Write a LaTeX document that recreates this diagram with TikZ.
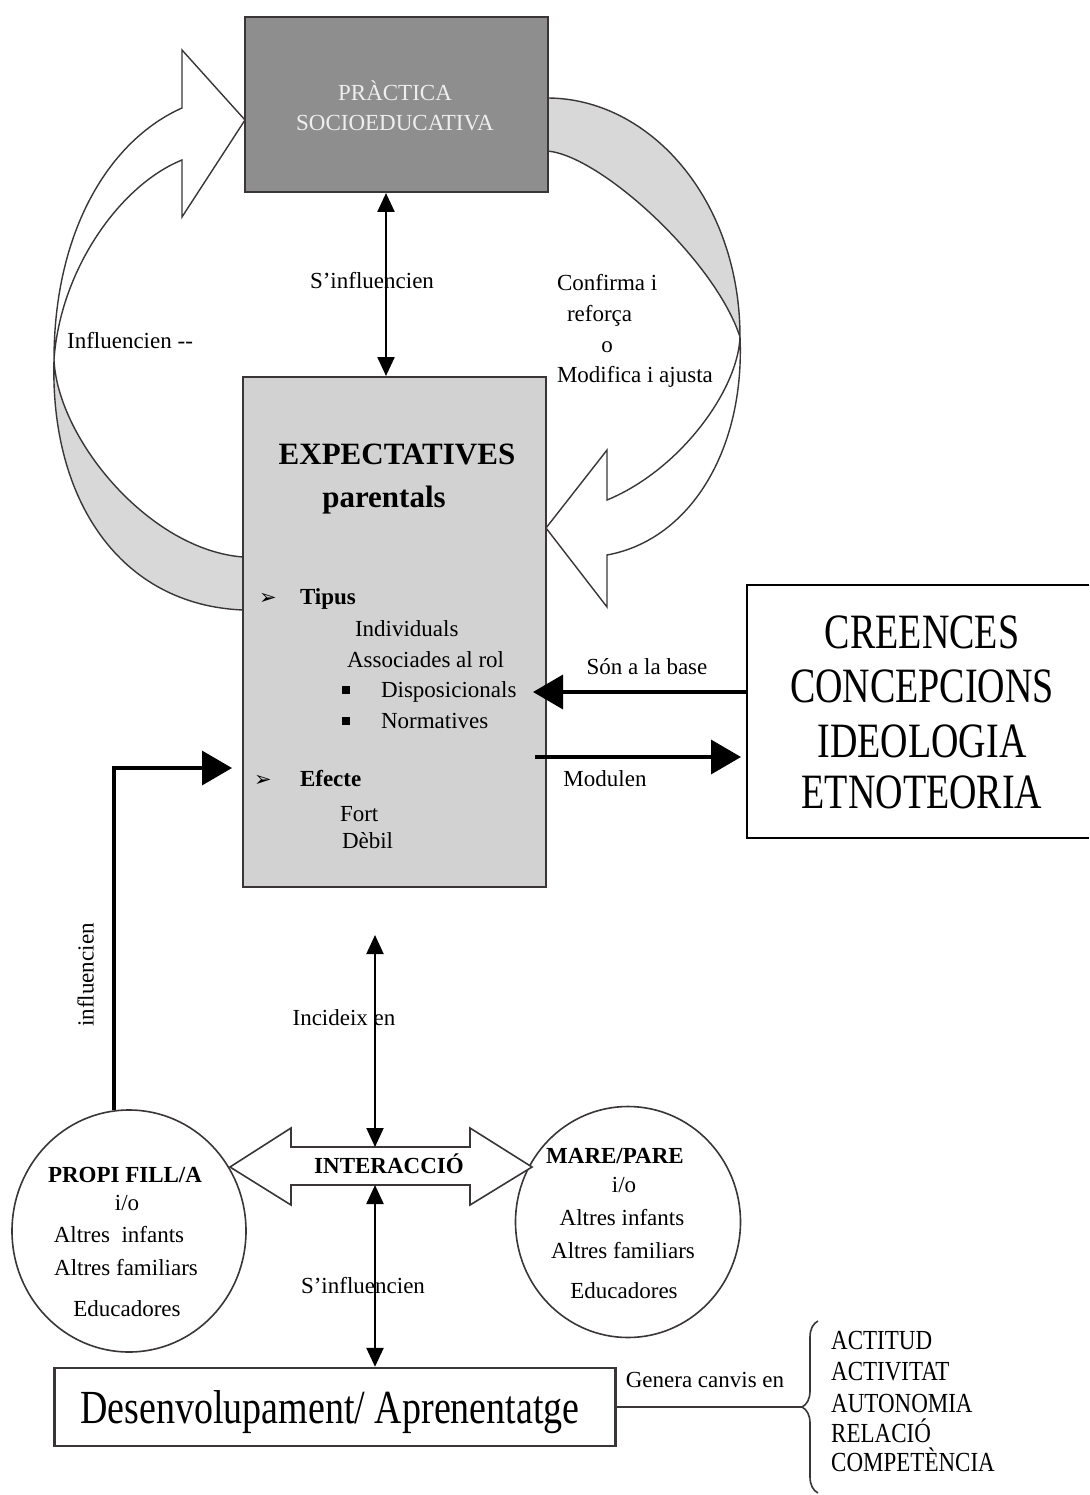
\documentclass[tikz,border=0pt]{standalone}
\usepackage{fontspec}
\usepackage{graphicx}
\setmainfont{Liberation Serif}
\newfontfamily\dingfont{DejaVu Sans}
\usetikzlibrary{arrows.meta,shapes.geometric,decorations.pathreplacing}
\newcommand{\vstretch}[2]{\scalebox{1}[#1]{#2}}
\definecolor{boxline}{HTML}{3A3636}
\definecolor{darkfill}{HTML}{8E8E8E}
\definecolor{lightfill}{HTML}{D2D2D2}
\definecolor{ribbonfill}{HTML}{D8D8D8}
\definecolor{lighttext}{HTML}{EEEEEE}
\begin{document}
\begin{tikzpicture}[x=1pt,y=-1pt,
  lab/.style={inner sep=0pt, outer sep=0pt, text height=16pt, text depth=5pt, font=\fontsize{23}{27}\selectfont},
  labb/.style={lab, font=\fontsize{23}{27}\selectfont\bfseries},
  bigtitle/.style={inner sep=0pt, outer sep=0pt, text height=22pt, text depth=7pt, font=\fontsize{31}{35}\selectfont\bfseries},
  ribbon/.style={draw=boxline, line width=1.4pt, line join=miter},
  smallarr/.style={draw=black, line width=2.4pt, {Triangle[length=19pt,width=17pt]}-{Triangle[length=19pt,width=17pt]}},
  bigarr/.style={draw=black, line width=3.5pt, -{Triangle[length=30pt,width=34pt]}},
  circlebox/.style={draw=boxline, line width=1.6pt, ellipse, inner sep=0pt},
  dingmark/.style={inner sep=0pt, font=\dingfont\fontsize{21}{21}\selectfont},
  sqbullet/.style={fill=black, minimum size=8pt, inner sep=0pt},
  listitem/.style={anchor=base west, inner sep=0pt, font=\fontsize{23}{25}\selectfont},
  bigword/.style={anchor=base, inner sep=0pt, font=\fontsize{38}{40}\selectfont}
]
\fill[white] (0,0) rectangle (1089,1495);
\useasboundingbox (0,0) rectangle (1089,1495);

% ---------- ribbons (curved block arrows) ----------
% left ribbon: grey lower part
\filldraw[ribbon, fill=ribbonfill] (54,360) .. controls (58,440) and (150,550) .. (243,557)
   -- (243,610) .. controls (120,605) and (50,500) .. (54,360) -- cycle;
% left ribbon: white upper part with head
\filldraw[ribbon, fill=white] (54,360) .. controls (54,230) and (110,140) .. (182,108)
   -- (182,50) -- (245,120) -- (182,217) -- (182,160)
   .. controls (120,185) and (60,270) .. (54,360) -- cycle;
% right ribbon: grey upper part
\filldraw[ribbon, fill=ribbonfill] (547,98) .. controls (650,98) and (740,200) .. (740,337)
   .. controls (715,260) and (600,155) .. (547,151) -- cycle;
% right ribbon: white lower part with head
\filldraw[ribbon, fill=white] (740,337) .. controls (738,390) and (680,470) .. (607,500)
   -- (607,450) -- (546,528) -- (607,607) -- (607,555)
   .. controls (690,540) and (745,450) .. (740,337) -- cycle;

% ---------- main boxes ----------
\node[draw=boxline, line width=2pt, fill=darkfill, minimum width=303pt, minimum height=175pt, inner sep=0pt] (prac) at (396.5,104.5) {};
\node[lab, text=lighttext] (pracA) at (395,95) {PRÀCTICA};
\node[lab, text=lighttext] (pracB) at (395,125) {SOCIOEDUCATIVA};

\node[draw=boxline, line width=2pt, fill=lightfill, minimum width=303pt, minimum height=510pt, inner sep=0pt] (exp) at (394.5,632) {};
\node[bigtitle] (expA) at (397,457) {EXPECTATIVES};
\node[bigtitle] (expB) at (384,500) {parentals};
\node[dingmark] (m1) at (268,599) {➢};
\node[labb, anchor=west] (tip) at (300,599) {Tipus};
\node[lab, anchor=west] (ind) at (355,631) {Individuals};
\node[lab, anchor=west] (ass) at (347,662) {Associades al rol};
\node[sqbullet] (b1) at (346,690) {};
\node[lab, anchor=west] (dis) at (381,692) {Disposicionals};
\node[sqbullet] (b2) at (346,721) {};
\node[lab, anchor=west] (nor) at (381,723) {Normatives};
\node[dingmark] (m2) at (263,781) {➢};
\node[labb, anchor=west] (efe) at (300,781) {Efecte};
\node[lab, anchor=west] (fort) at (340,816) {Fort};
\node[lab, anchor=west] (deb) at (342,843) {Dèbil};

% top double arrow
\coordinate (topX) at (386,0);
\draw[smallarr] (prac.south -| topX) -- (exp.north -| topX);
\node[lab] (sinf1) at (372,283) {S’influencien};

% ribbon labels
\node[lab] (infl) at (130,343) {Influencien {-}{-}};
\node[lab, anchor=west] (conf1) at (557,285) {Confirma i};
\node[lab, anchor=west] (conf2) at (567,316) {reforça};
\node[lab] (conf3) at (607,347) {o};
\node[lab, anchor=west] (conf4) at (557,377) {Modifica i ajusta};

% ---------- CREENCES box ----------
\node[minimum width=342pt, minimum height=253pt, inner sep=0pt, outer sep=0pt] (crb) at (918,711.5) {};
\draw[black, line width=2.8pt] (crb.north east) -- (crb.north west) -- (crb.south west) -- (crb.south east);
\node[bigword] (cr1) at (922,648) {\vstretch{1.3}{CREENCES}};
\node[bigword] (cr2) at (922,702) {\vstretch{1.3}{CONCEPCIONS}};
\node[bigword] (cr3) at (922,757) {\vstretch{1.3}{IDEOLOGIA}};
\node[bigword] (cr4) at (922,808) {\vstretch{1.3}{ETNOTEORIA}};

\coordinate (ySon) at (0,692);
\coordinate (yMod) at (0,757);
\draw[bigarr, shorten >=-14pt] (crb.west |- ySon) -- (exp.east |- ySon);
\draw[bigarr, shorten <=-12pt, shorten >=6pt] (exp.east |- yMod) -- (crb.west |- yMod);
\node[lab] (son) at (647,669) {Són a la base};
\node[lab] (mod) at (605,781) {Modulen};

% ---------- lower part ----------
\node[circlebox, minimum width=234pt, minimum height=242pt] (pf) at (129,1231) {};
\node[labb] (pf1) at (125,1177) {PROPI FILL/A};
\node[lab] (pf2) at (127,1205) {i/o};
\node[lab] (pf3) at (119,1237) {Altres\ \ infants};
\node[lab] (pf4) at (126,1270) {Altres familiars};
\node[lab] (pf5) at (127,1311) {Educadores};

\node[circlebox, minimum width=225pt, minimum height=231pt] (mp) at (628,1222) {};
\node[labb] (mp1) at (615,1158) {MARE/PARE};
\node[lab] (mp2) at (624,1187) {i/o};
\node[lab] (mp3) at (622,1220) {Altres infants};
\node[lab] (mp4) at (623,1253) {Altres familiars};
\node[lab] (mp5) at (624,1293) {Educadores};

% influencien connector
\coordinate (yInf) at (0,768);
\draw[bigarr, shorten >=10pt] (pf.97) |- (exp.west |- yInf);
\node[lab, rotate=90] (infl2) at (88,975) {influencien};

% INTERACCIO double block arrow
\filldraw[draw=boxline, line width=1.6pt, fill=white] (230,1167) -- (291,1128) -- (291,1147) -- (470,1147)
  -- (470,1128) -- (532,1167) -- (470,1205) -- (470,1185) -- (291,1185) -- (291,1205) -- cycle;
\node[labb] (inter) at (389,1168) {INTERACCIÓ};
\coordinate (iaTop) at (375,1147);
\coordinate (iaBot) at (375,1185);
\coordinate (incTop) at (375,935);

\node[draw=boxline, line width=2.4pt, minimum width=561pt, minimum height=78pt, inner sep=0pt] (dev) at (335,1407) {};
\node[bigword] (devT) at (330,1423) {\vstretch{1.25}{Desenvolupament/ Aprenentatge}};

\draw[smallarr, line width=2pt] (incTop) -- (iaTop);
\draw[smallarr] (iaBot) -- (dev.north -| iaBot);
\node[lab] (incid) at (344,1020) {Incideix en};
\node[lab] (sinf2) at (363,1288) {S’influencien};

% brace and list
\coordinate (brBot) at (818,1493);
\coordinate (brTop) at (818,1321);
\coordinate (brTip) at (802,1407);
\draw[boxline, line width=1.6pt, decorate, decoration={brace, amplitude=16pt}] (brBot) -- (brTop);
\draw[boxline, line width=2pt] (dev.east) -- (brTip);
\node[lab] (gen) at (705,1382) {Genera canvis en};
\node[listitem] (l1) at (831,1349) {\vstretch{1.2}{ACTITUD}};
\node[listitem] (l2) at (831,1380) {\vstretch{1.2}{ACTIVITAT}};
\node[listitem] (l3) at (831,1412) {\vstretch{1.2}{AUTONOMIA}};
\node[listitem] (l4) at (831,1442) {\vstretch{1.2}{RELACIÓ}};
\node[listitem] (l5) at (831,1471) {\vstretch{1.2}{COMPETÈNCIA}};
\end{tikzpicture}
\end{document}
